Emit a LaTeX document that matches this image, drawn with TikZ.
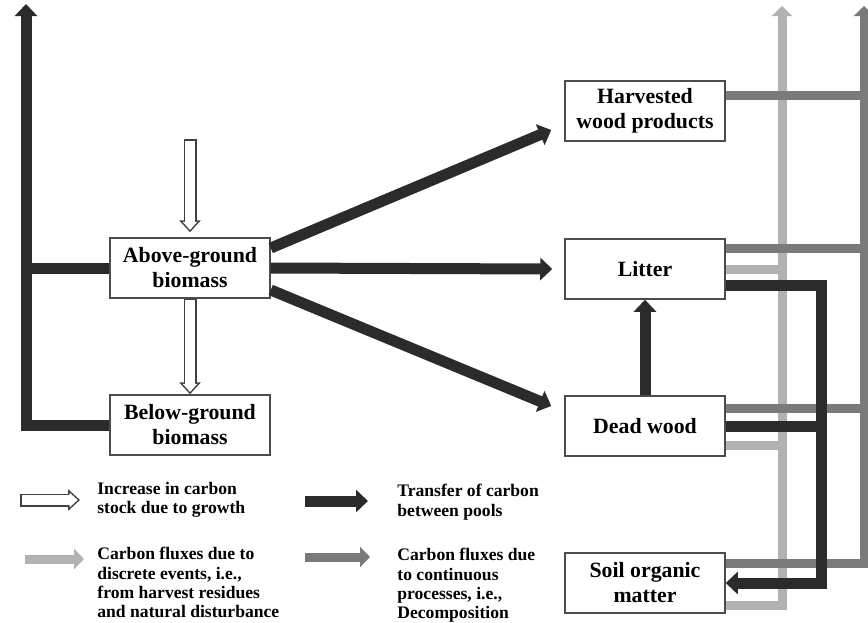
\documentclass[tikz,border=0pt]{standalone}
\usepackage{fontspec}
\setmainfont{Liberation Serif}
\usetikzlibrary{arrows.meta, calc}

\begin{document}
\begin{tikzpicture}[x=0.5pt,y=-0.5pt]
      \tikzset{pool/.style={draw=black!70,
          line width=0.75pt,
          fill=white,
          minimum width=80pt,
          minimum height=30pt,
          inner sep=0pt,
          align=center,
          font=\fontsize{10.9}{12.5}\selectfont\bfseries},
        transfer/.style={draw=black!83, line width=5.5pt,
          -{Triangle[length=6pt,width=11pt]}},
        discrete flux/.style={draw=black!30, line width=4.5pt,
          -{Triangle[length=5pt,width=10pt]}},
        continuous flux/.style={draw=black!52, line width=4.5pt,
          -{Triangle[length=5pt,width=10pt]}},
        growth/.style={draw=white, line width=5pt,
          -{Triangle[length=4.1pt,width=7.2pt]},
          shorten >=1.15pt, shorten <=0.75pt,
          preaction={draw=black!75, line width=6.5pt,
            -{Triangle[length=6pt,width=10.5pt]},
            shorten >=0pt, shorten <=0pt}},
        legend text/.style={anchor=north west, inner sep=0pt, align=left,
          font=\fontsize{8.8}{9.6}\selectfont\bfseries}
      }
      \useasboundingbox (0,0) rectangle (868,622);
      \node [pool] (agb) at (190,268) {Above-ground\\biomass};
      \node [pool] (bgb) at (190,425) {Below-ground\\biomass};
      \node [pool] (hwp) at (645,111) {Harvested\\wood products};
      \node [pool] (lit) at (645,269) {Litter};
      \node [pool] (dw) at (645,426) {Dead wood};
      \node [pool] (som) at (645,583) {Soil organic\\matter};
      \coordinate (light top) at (782,6);
      \coordinate (cont top) at (864,6);
      \coordinate (sink top) at (26,4);
      \coordinate (uptake) at (190,139);
      % discrete events
      \draw [discrete flux] ([yshift=4pt]som.south east) -| (light top);
      \draw [discrete flux,-] (lit.east) -- (lit.east -| light top);
      \draw [discrete flux,-] ([yshift=-9.5pt]dw.east) -- ([yshift=-9.5pt]dw.east -| light top);
      % decomposition
      \draw [continuous flux] ([yshift=10pt]som.east) -| (cont top);
      \draw [continuous flux,-] ([yshift=9pt]dw.east) -- ([yshift=9pt]dw.east -| cont top);
      \draw [continuous flux,-] ([yshift=10.5pt]lit.east) -- ([yshift=10.5pt]lit.east -| cont top);
      \draw [continuous flux,-] ([yshift=8pt]hwp.east) -- ([yshift=8pt]hwp.east -| cont top);
      % transfers
      \draw [transfer] (bgb.west) -| (sink top);
      \draw [transfer,-] (agb.west) -- (agb.west -| sink top);
      \draw [transfer] ([yshift=10pt]agb.east) -- ([xshift=-6.5pt,yshift=-9.5pt]hwp.west);
      \draw [transfer] (agb.east) -- ([xshift=-6pt]lit.west);
      \draw [transfer] ([yshift=-11pt]agb.east) -- ([xshift=-6.5pt,yshift=10pt]dw.west);
      \draw [transfer] (dw.north) -- (lit.south);
      \draw [transfer] ([yshift=-8pt]lit.east) -- ++(96,0) coordinate (drop) |- (som.east);
      \draw [transfer,-] (dw.east) -- (dw.east -| drop);
      % growth
      \draw [growth] (uptake) -- ([yshift=2.5pt]agb.north);
      \draw [growth] (agb.south) -- (bgb.north);
      % key
      \coordinate (key growth) at (20,500);
      \coordinate (key transfer) at (305,501);
      \coordinate (key discrete) at (25,559);
      \coordinate (key continuous) at (305,557);
      \draw [growth] (key growth) -- ++(60,0);
      \draw [transfer] (key transfer) -- ++(63,0);
      \draw [discrete flux] (key discrete) -- ++(59,0);
      \draw [continuous flux] (key continuous) -- ++(65,0);
      \node [legend text] (growth text) at (97,482) {Increase in carbon\\stock due to growth};
      \node [legend text] (transfer text) at (397,484) {Transfer of carbon\\between pools};
      \node [legend text] (discrete text) at (97,547) {Carbon fluxes due to\\discrete events, i.e.,\\from harvest residues\\and natural disturbance};
      \node [legend text] (continuous text) at (397,548) {Carbon fluxes due\\to continuous\\processes, i.e.,\\Decomposition};
    \end{tikzpicture}
\end{document}
